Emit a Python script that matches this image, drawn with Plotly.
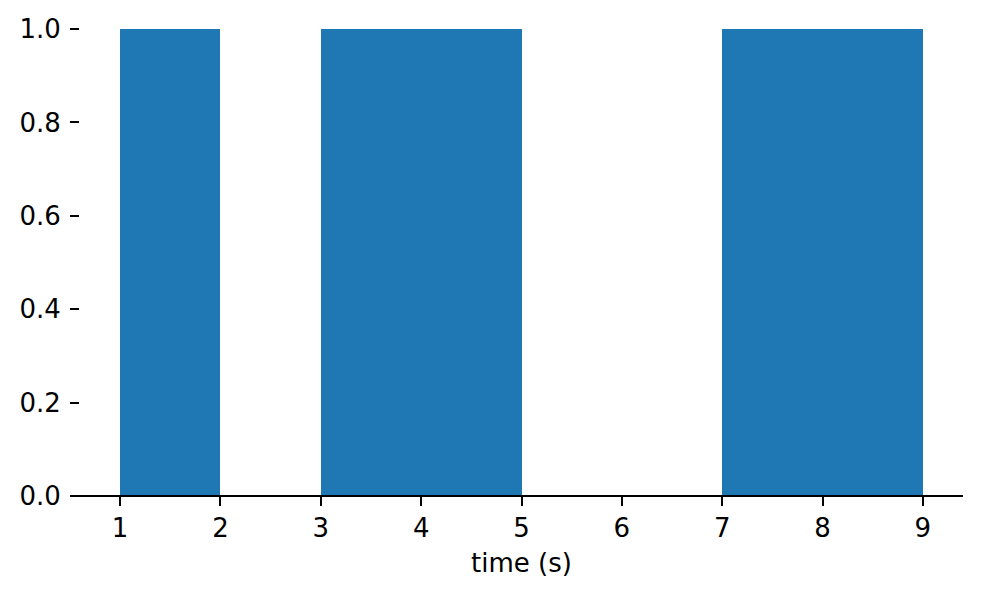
import plotly.graph_objects as go

# bins: left edge, width, height
bin_starts = [1, 3, 7]
bin_widths = [1, 2, 2]
bin_heights = [1, 1, 1]

x_ticks = [1, 2, 3, 4, 5, 6, 7, 8, 9]
y_ticks = [0.0, 0.2, 0.4, 0.6, 0.8, 1.0]

fig = go.Figure(
    go.Bar(
        x=bin_starts,
        y=bin_heights,
        width=bin_widths,
        offset=0,
        marker=dict(color="#1f77b4", line=dict(width=0)),
        showlegend=False,
    )
)

tick_font = dict(family="DejaVu Sans", size=26, color="black")

fig.update_layout(
    width=982,
    height=598,
    paper_bgcolor="white",
    plot_bgcolor="white",
    # page body adds 8px, so margins are shifted to land on the reference
    margin=dict(l=72, r=27, t=21, b=110),
    bargap=0,
    xaxis=dict(
        range=[0.6, 9.4],
        tickvals=x_ticks,
        ticks="outside",
        ticklen=9,
        tickwidth=2,
        tickcolor="black",
        tickfont=tick_font,
        showgrid=False,
        zeroline=False,
        showline=False,
        automargin=False,
        title=dict(text="time (s)", font=tick_font, standoff=11),
    ),
    yaxis=dict(
        range=[0, 1],
        tickvals=y_ticks,
        tickformat=".1f",
        ticks="outside",
        ticklen=9,
        tickwidth=2,
        tickcolor="black",
        tickfont=tick_font,
        ticklabelstandoff=4,
        showgrid=False,
        zeroline=False,
        showline=False,
        automargin=False,
    ),
)

# bottom spine, running under the y tick marks as in the original
fig.add_shape(
    type="line", xref="paper", yref="paper",
    x0=-0.0102, x1=1, y0=0, y1=0,
    line=dict(color="black", width=2),
)

fig.write_html("out.html")
